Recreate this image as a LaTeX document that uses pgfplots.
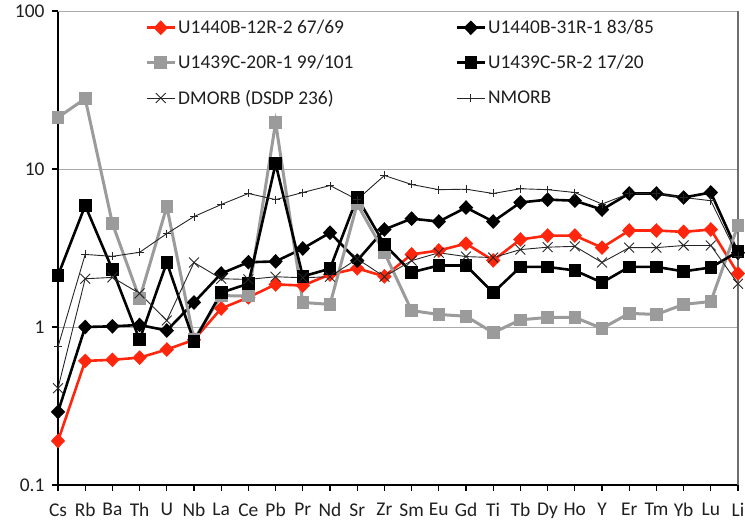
\documentclass[border=0pt]{standalone}
\usepackage{fontspec}
\setmainfont{Carlito}
\usepackage{pgfplots}
\usepackage{pgfplotstable}
\pgfplotsset{compat=1.18}

\definecolor{sampred}{RGB}{255,38,13}
\definecolor{sampgray}{RGB}{155,155,155}
\definecolor{gridgray}{RGB}{170,170,170}
\definecolor{frame}{RGB}{110,110,110}

% Primitive-mantle normalised trace elements
\pgfplotstableread{
idx el red bdia gray bsq dmorb nmorb
0  Cs 0.19 0.29 21.2 2.12 0.41 0.75
1  Rb 0.61 1.00 27.9 5.87 2.02 2.88
2  Ba 0.62 1.01 4.52 2.31 2.06 2.80
3  Th 0.64 1.03 1.51 0.83 1.63 2.97
4  U  0.72 0.95 5.78 2.56 1.10 3.90
5  Nb 0.83 1.43 0.83 0.81 2.56 5.00
6  La 1.31 2.18 1.58 1.65 2.02 5.96
7  Ce 1.54 2.57 1.57 1.88 2.00 7.00
8  Pb 1.86 2.60 19.7 10.8 2.08 6.40
9  Pr 1.83 3.14 1.43 2.09 2.05 7.10
10 Nd 2.15 3.95 1.39 2.34 2.08 7.86
11 Sr 2.35 2.63 6.00 6.60 2.70 6.40
12 Zr 2.09 4.14 2.96 3.33 2.08 9.10
13 Sm 2.88 4.85 1.27 2.22 2.63 7.98
14 Eu 3.05 4.65 1.20 2.45 2.95 7.40
15 Gd 3.37 5.70 1.17 2.45 2.79 7.45
16 Ti 2.64 4.65 0.92 1.65 2.75 7.00
17 Tb 3.58 6.14 1.11 2.40 3.09 7.50
18 Dy 3.79 6.40 1.15 2.40 3.20 7.40
19 Ho 3.79 6.30 1.15 2.28 3.24 7.10
20 Y  3.18 5.53 0.98 1.91 2.56 6.00
21 Er 4.08 7.00 1.22 2.40 3.18 7.00
22 Tm 4.08 7.00 1.20 2.40 3.18 7.00
23 Yb 4.00 6.60 1.39 2.25 3.28 6.60
24 Lu 4.14 7.10 1.45 2.38 3.28 6.30
25 Li 2.18 2.95 4.40 3.00 1.88 2.80
}\spider

\begin{document}
\begin{tikzpicture}[x=1bp,y=1bp]
\useasboundingbox (0,0) rectangle (745,523);
\begin{axis}[
  at={(58bp,38bp)}, anchor=south west,
  scale only axis, width=680bp, height=474bp,
  xmin=0, xmax=25, ymode=log, ymin=0.1, ymax=100,
  axis lines*=left,
  axis line style={black, line width=1.8bp},
  xtick={0,...,25},
  xticklabels={Cs,Rb,Ba,Th,U,Nb,La,Ce,Pb,Pr,Nd,Sr,Zr,Sm,Eu,Gd,Ti,Tb,Dy,Ho,Y,Er,Tm,Yb,Lu,Li},
  ytick={0.1,1,10,100}, yticklabels={0.1,1,10,100},
  yminorticks=false,
  tick label style={font=\fontsize{19.5}{22}\selectfont, text=black!88},
  /pgf/number format/assume math mode=true,
  yticklabel style={xshift=-4bp},
  xticklabel style={yshift=-9bp},
  ymajorgrids, major grid style={gridgray, line width=0.8bp},
  tick align=outside, major tick length=6bp,
  tick style={black, line width=1.2bp},
  clip=false,
  legend columns=2,
  legend cell align=left,
  legend style={at={(0.128,0.985)}, anchor=north west, draw=none, fill=none,
    font=\fontsize{19.5}{22}\selectfont, text=black!88,
    row sep=16bp, inner sep=0pt,
    /tikz/every even column/.append style={column sep=100bp}},
  legend image code/.code={%
    \draw[mark repeat=2, mark phase=2, #1] plot coordinates {(0bp,0bp) (14bp,0bp) (28bp,0bp)};},
]
\addplot[sampred, line width=2.6bp, mark=diamond*, mark size=5.5bp,
  mark options={solid, xscale=1.3}] table[x=idx, y=red] {\spider};
\addlegendentry{U1440B-12R-2 67/69}
\addplot[black, line width=2.6bp, mark=diamond*, mark size=5.5bp,
  mark options={solid, xscale=1.3}] table[x=idx, y=bdia] {\spider};
\addlegendentry{U1440B-31R-1 83/85}
\addplot[sampgray, line width=3bp, mark=square*, mark size=4.8bp,
  mark options={solid}] table[x=idx, y=gray] {\spider};
\addlegendentry{U1439C-20R-1 99/101}
\addplot[black, line width=2.6bp, mark=square*, mark size=5bp,
  mark options={solid}] table[x=idx, y=bsq] {\spider};
\addlegendentry{U1439C-5R-2 17/20}
\addplot[black!85, line width=0.9bp, mark=x, mark size=7bp,
  mark options={solid, line width=0.9bp}] table[x=idx, y=dmorb] {\spider};
\addlegendentry{DMORB (DSDP 236)}
\addplot[black!85, line width=0.9bp, mark=+, mark size=4bp,
  mark options={solid, line width=0.9bp}] table[x=idx, y=nmorb] {\spider};
\addlegendentry{NMORB}
% frame on the top and right of the plot area
\draw[gridgray, line width=0.8bp] (axis description cs:0,1) -- (axis description cs:1,1);
\draw[frame, line width=1.6bp] (axis description cs:1,1) -- (axis description cs:1,0);
\end{axis}
\end{tikzpicture}
\end{document}
